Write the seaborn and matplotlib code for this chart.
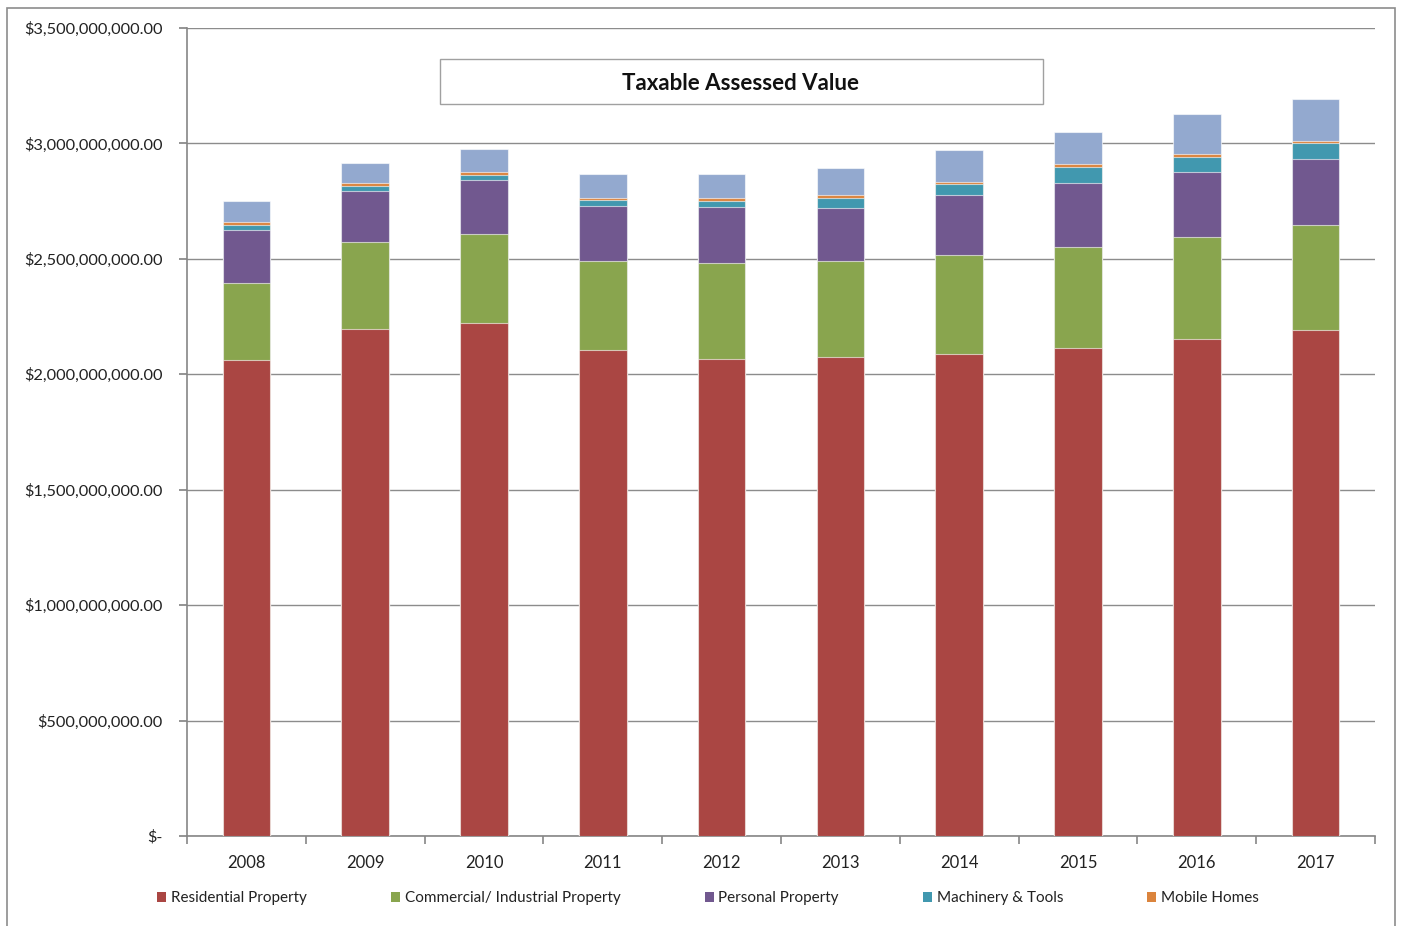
import numpy as np
import pandas as pd
import matplotlib
matplotlib.use('Agg')
import matplotlib.pyplot as plt
from matplotlib.ticker import FuncFormatter, MultipleLocator, FixedLocator
from matplotlib.patches import Rectangle, Patch
import seaborn as sns

# 年份
years = ['2008', '2009', '2010', '2011', '2012', '2013', '2014', '2015', '2016', '2017']

# 各類別評估值 (十億美元)
residential = [2.062, 2.196, 2.222, 2.105, 2.066, 2.075, 2.088, 2.114, 2.153, 2.192]
commercial = [0.333, 0.378, 0.387, 0.386, 0.416, 0.416, 0.429, 0.437, 0.443, 0.453]
personal = [0.231, 0.220, 0.233, 0.239, 0.243, 0.231, 0.261, 0.276, 0.280, 0.286]
machinery = [0.022, 0.021, 0.021, 0.025, 0.027, 0.043, 0.048, 0.072, 0.067, 0.071]
mobile = [0.012, 0.014, 0.013, 0.010, 0.010, 0.010, 0.008, 0.012, 0.011, 0.008]
other = [0.089, 0.086, 0.100, 0.101, 0.107, 0.117, 0.136, 0.140, 0.172, 0.184]

series_names = ['Residential Property', 'Commercial/ Industrial Property', 'Personal Property',
                'Machinery & Tools', 'Mobile Homes', 'Other']
series_values = [residential, commercial, personal, machinery, mobile, other]
colors = ['#AA4643', '#89A54E', '#71588F', '#4198AF', '#DB843D', '#93A9CF']

sns.set_theme(style='white')
plt.rcParams['font.family'] = ['Lato', 'DejaVu Sans']

fig = plt.figure(figsize=(14.02, 9.26), dpi=100)
ax = fig.add_axes([0.1334, 0.0972, 0.8473, 0.8726])

# 累積值: 由最高的系列先畫，逐層覆蓋
cum = np.cumsum(np.array(series_values) * 1e9, axis=0)
for i in range(len(series_names) - 1, -1, -1):
    df = pd.DataFrame({'year': years, 'value': cum[i]})
    sns.barplot(data=df, x='year', y='value', color=colors[i], saturation=1,
                width=0.4, errorbar=None, edgecolor=(1, 1, 1, 0.6), linewidth=0.8,
                ax=ax, zorder=3)

ax.set_ylim(0, 3.5e9)
ax.set_xlim(-0.5, len(years) - 0.5)
ax.yaxis.set_major_locator(MultipleLocator(5e8))
ax.yaxis.set_major_formatter(FuncFormatter(lambda v, p: '$-' if v == 0 else f'${v:,.2f}'))
ax.grid(axis='y', color='#8c8c8c', linewidth=1, zorder=0)
ax.set_axisbelow(True)
ax.set_xlabel('')
ax.set_ylabel('')

for s in ['top', 'right']:
    ax.spines[s].set_visible(False)
for s in ['left', 'bottom']:
    ax.spines[s].set_color('#868686')
    ax.spines[s].set_linewidth(1.2)

ax.tick_params(axis='y', which='major', length=6, color='#868686', labelsize=11.8,
               labelcolor='#222222', left=True, direction='out', pad=11.5)
ax.tick_params(axis='x', which='major', length=0, labelsize=12, labelcolor='#222222', pad=14)
ax.xaxis.set_minor_locator(FixedLocator(np.arange(-0.5, len(years), 1.0)))
ax.tick_params(axis='x', which='minor', length=6, color='#868686', bottom=True, width=1.2)

# 標題框
fig.patches.append(Rectangle((440 / 1402, 1 - 104 / 926), (1043 - 440) / 1402, 45 / 926,
                             transform=fig.transFigure, facecolor='white', edgecolor='#a0a0a0',
                             linewidth=1, zorder=5))
fig.text(741 / 1402, 1 - 83 / 926, 'Taxable Assessed Value', ha='center', va='center',
         fontsize=16, fontweight='bold', color='#111111', zorder=6)

# 圖例
handles = [Patch(facecolor=colors[i], edgecolor='none') for i in range(5)]
fig.legend(handles, series_names[:5], loc='center', bbox_to_anchor=(0.505, 0.03), ncol=5,
           frameon=False, fontsize=11, handlelength=0.6, handleheight=0.6, handletextpad=0.3,
           columnspacing=5.5, labelcolor='#222222')

# 外框
fig.patches.append(Rectangle((7 / 1402, -0.05), (1395 - 7) / 1402, 1.05 - 8 / 926,
                             transform=fig.transFigure, fill=False, edgecolor='#8c8c8c',
                             linewidth=1.2))

fig.savefig('out.png', dpi=100)
